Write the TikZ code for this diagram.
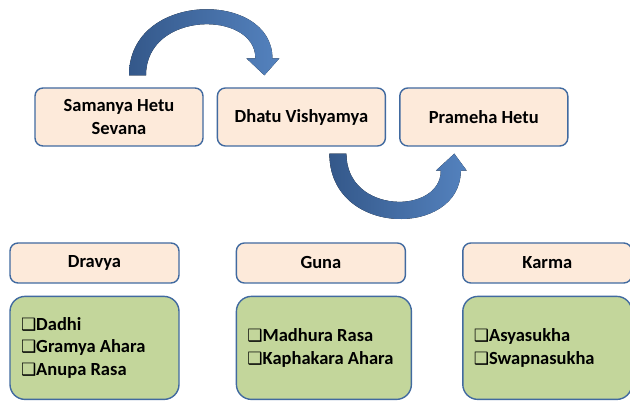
\documentclass[tikz,border=0pt]{standalone}
\usepackage{fontspec}
\setmainfont{Carlito}
\newfontfamily\symfont{DejaVu Sans}
\usepackage{xcolor}
\usepackage{tikz}
\usetikzlibrary{positioning}
\definecolor{boxline}{RGB}{65,106,160}
\definecolor{peach}{RGB}{253,234,218}
\definecolor{leaf}{RGB}{195,214,155}
\definecolor{arrowlight}{RGB}{84,130,190}
\definecolor{arrowdark}{RGB}{52,88,138}
\newcommand{\chk}{{\symfont\fontsize{17}{17}\selectfont ❑}}

\begin{document}
\begin{tikzpicture}[
      x=1pt, y=1pt,
      font=\fontsize{18.5}{22.5}\selectfont\bfseries,
      box/.style={draw=boxline, line width=1.4pt, rounded corners=8pt, fill=peach,
                  align=flush center, minimum width=168pt, minimum height=58pt, inner sep=2pt},
      head/.style={box, minimum width=169pt, minimum height=40pt},
      list/.style={draw=boxline, line width=1.4pt, rounded corners=15pt, fill=leaf,
                   align=flush left, text width=147pt, minimum height=103pt, inner xsep=11pt},
      curvarrow/.style={left color=arrowdark, right color=arrowlight},
    ]
    \useasboundingbox (0,0) rectangle (630,402);
    \node[box] (sam) at (119,285) {Samanya Hetu\\Sevana};
    \node[box, right=13pt of sam] (dhatu) {Dhatu Vishyamya};
    \node[box, right=13pt of dhatu] (prameha) {Prameha Hetu};

    \node[head] (dravya) at (94.5,139) {Dravya};
    \node[head, right=56pt of dravya] (guna) {Guna};
    \node[head, right=56pt of guna] (karma) {Karma};
    \node[list, below right=12pt and 0pt of dravya.south west] (dravyalist)
      {\chk Dadhi\\\chk Gramya Ahara\\\chk Anupa Rasa};
    \node[list, text width=153pt, below right=12pt and 0pt of guna.south west] (gunalist)
      {\chk Madhura Rasa\\\chk Kaphakara Ahara};
    \node[list, below right=12pt and 0pt of karma.south west] (karmalist)
      {\chk Asyasukha\\\chk Swapnasukha};

    \coordinate (t0) at ([shift={(10pt,12pt)}]sam.north);
    \coordinate (t1) at ([shift={(-37pt,12pt)}]dhatu.north);
    \fill[curvarrow] (t0) .. controls +(0,85) and +(0,68) .. ([shift={(8pt,17pt)}]t1)
      -- ++(7,0) -- (t1) -- ++(-18,17) -- ++(9,0)
      .. controls +(0,48) and +(0,65) .. ([xshift=17pt]t0) -- cycle;
    \coordinate (b0) at ([shift={(28pt,-7pt)}]dhatu.south);
    \coordinate (b1) at ([shift={(-29.5pt,-7pt)}]prameha.south);
    \fill[curvarrow] (b0) .. controls +(0,-84) and +(0,-67) .. ([shift={(6.5pt,-17pt)}]b1)
      -- ++(6,0) -- (b1) -- ++(-18.5,-17) -- ++(5,0)
      .. controls +(0,-44) and +(0,-61) .. ([xshift=17pt]b0) -- cycle;
  \end{tikzpicture}
\end{document}
